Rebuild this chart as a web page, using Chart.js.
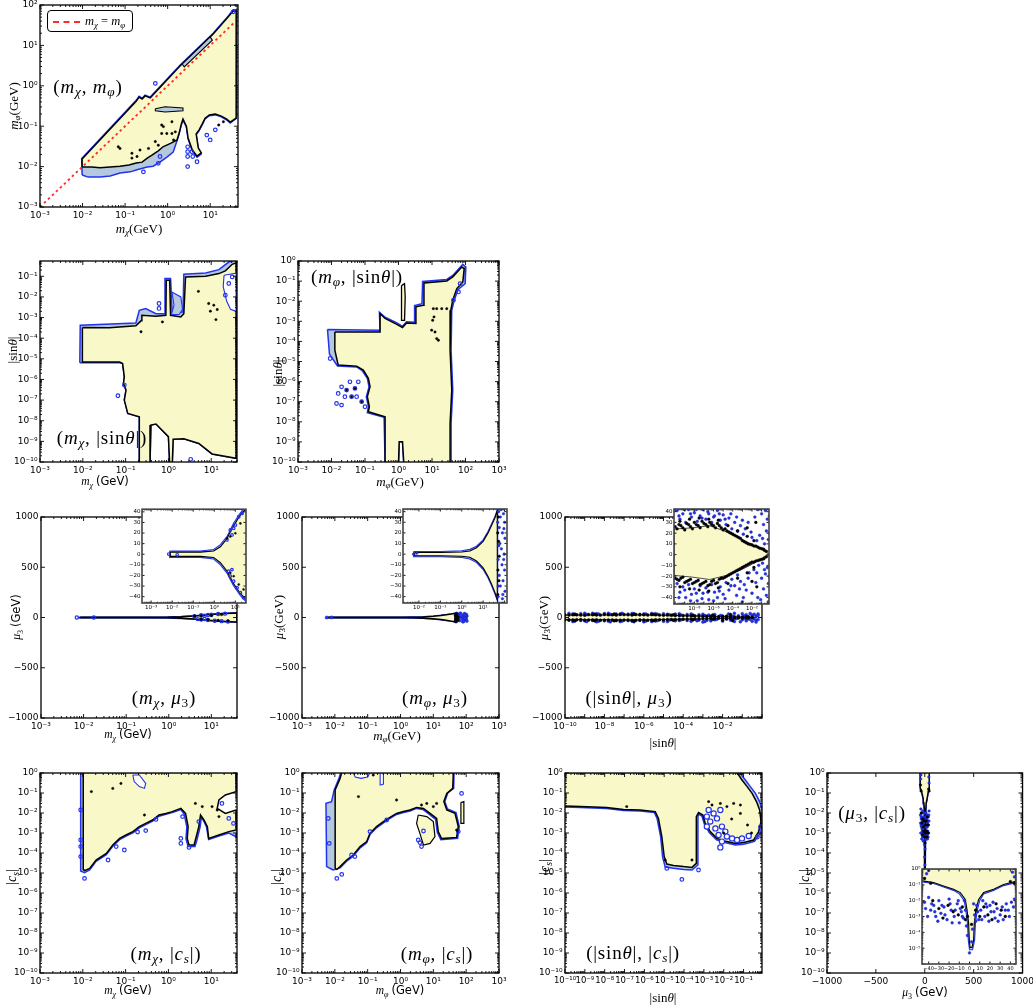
<!DOCTYPE html>
<html>
<head>
<meta charset="utf-8">
<script src="https://cdn.jsdelivr.net/npm/chart.js@4.4.1/dist/chart.umd.min.js"></script>
<style>
  html, body { margin: 0; padding: 0; background: #fff; }
  #fig { position: relative; width: 1033px; height: 1008px; overflow: hidden; }
  .t { position: absolute; white-space: nowrap; color: #000; line-height: 1;
       font-family: 'Liberation Serif', 'DejaVu Serif', serif; }
  .t sub { font-size: 70%; vertical-align: -0.3em; line-height: 0; }
  .t.big { letter-spacing: 0.8px; }
  .sans { font-family: 'DejaVu Sans', sans-serif; font-style: normal; letter-spacing: 0; }
  #legend { position: absolute; left: 47px; top: 10px; width: 86px; height: 22px; box-sizing: border-box;
            border: 1px solid #000; border-radius: 4px; background: #fff; }
  #legend .dash { position: absolute; left: 5px; top: 10px; width: 27px; border-top: 2px dashed #ff2a2a; }
</style>
</head>
<body>
<div id="fig"></div>
<script>
// ---------- data ----------
// coordinates of log axes are given as log10 of the value

// tick labels
const ticksChi = [1e-3, 1e-2, 1e-1, 1, 10];
const ticksPhi = [1e-3, 1e-2, 1e-1, 1, 10, 100, 1000];
const ticksPhiY = [1e-3, 1e-2, 1e-1, 1, 10, 100];
const ticksSinB = [1e-10, 1e-9, 1e-8, 1e-7, 1e-6, 1e-5, 1e-4, 1e-3, 1e-2, 1e-1];
const ticksSinC = [1e-10, 1e-9, 1e-8, 1e-7, 1e-6, 1e-5, 1e-4, 1e-3, 1e-2, 1e-1, 1];
const ticksCs = [1e-10, 1e-9, 1e-8, 1e-7, 1e-6, 1e-5, 1e-4, 1e-3, 1e-2, 1e-1, 1];
const ticksMu = [-1000, -500, 0, 500, 1000];
const ticksSinF = [1e-10, 1e-8, 1e-6, 1e-4, 1e-2];
const ticksSinI = [1e-10, 1e-9, 1e-8, 1e-7, 1e-6, 1e-5, 1e-4, 1e-3, 1e-2, 1e-1];
const ticksMuInset = [-40, -30, -20, -10, 0, 10, 20, 30, 40];
const ticksChiInset = [1e-3, 1e-2, 1e-1, 1, 10];
const ticksPhiInset = [1e-2, 1e-1, 1, 10];
const ticksSinInset = [1e-8, 1e-6, 1e-4, 1e-2];
const ticksCsInset = [1e-5, 1e-4, 1e-3, 1e-2, 1e-1, 1];

// (m_chi, m_phi)  [log mchi, log mphi]
const chiPhiOuter = [[-2.01,-2.21],[-2.02,-1.80],[-0.74,-0.36],[-0.67,-0.26],[-0.60,-0.31],[-0.53,-0.23],[-0.41,-0.28],[0.29,0.51],[1.07,1.30],[1.42,1.72],[1.54,1.88],[1.62,1.88],[1.62,-0.80],[1.47,-0.92],[1.38,-0.84],[1.26,-0.77],[1.12,-0.72],[0.98,-0.74],[0.88,-0.82],[0.81,-0.97],[0.74,-1.11],[0.67,-1.21],[0.72,-1.56],[0.79,-1.69],[0.69,-1.77],[0.58,-1.61],[0.48,-1.31],[0.44,-1.02],[0.36,-0.85],[0.32,-0.97],[0.27,-1.19],[0.22,-1.36],[0.13,-1.64],[-0.01,-1.76],[-0.18,-1.89],[-0.34,-1.99],[-0.48,-2.01],[-0.72,-2.08],[-0.88,-2.13],[-1.12,-2.16],[-1.35,-2.23],[-1.59,-2.26],[-1.87,-2.26]];
const chiPhiInner = [[-2.01,-2.01],[-2.01,-1.81],[-0.74,-0.38],[-0.67,-0.28],[-0.60,-0.33],[-0.53,-0.25],[-0.41,-0.30],[0.29,0.49],[1.07,1.28],[1.42,1.70],[1.54,1.85],[1.61,1.85],[1.61,-0.80],[1.47,-0.90],[1.38,-0.82],[1.26,-0.75],[1.12,-0.70],[0.98,-0.72],[0.88,-0.80],[0.81,-0.95],[0.74,-1.09],[0.67,-1.19],[0.72,-1.54],[0.79,-1.66],[0.69,-1.74],[0.58,-1.59],[0.48,-1.29],[0.44,-1.0],[0.36,-0.82],[0.32,-0.95],[0.27,-1.17],[0.22,-1.34],[0.08,-1.42],[-0.11,-1.51],[-0.22,-1.61],[-0.36,-1.71],[-0.48,-1.79],[-0.60,-1.89],[-0.74,-1.91],[-0.91,-1.96],[-1.12,-1.99],[-1.35,-2.01],[-1.59,-2.03],[-1.78,-2.01]];
const chiPhiStrip = [[0.34,0.54],[1.0,1.21],[1.05,1.13],[0.39,0.47]];
const chiPhiHole = [[-0.29,-0.57],[-0.06,-0.52],[0.36,-0.55],[0.36,-0.62],[-0.06,-0.65],[-0.29,-0.62]];
const chiPhiDots = [[-0.14,-0.97],[-0.14,-1.18],[-0.02,-1.18],[0.10,-1.18],[0.18,-1.14],[-0.29,-1.38],[-0.22,-1.47],[-0.45,-1.55],[-0.65,-1.59],[-0.84,-1.79],[-1.12,-1.55],[0.10,-0.89],[-0.72,-1.75],[-0.10,-1.01],[0.14,-1.34],[-1.16,-1.51],[-0.84,-1.67],[1.20,-0.97],[1.31,-0.89]];
const chiPhiRings = [[0.47,-1.51],[0.47,-1.63],[0.57,-1.63],[0.47,-1.75],[0.59,-1.75],[0.47,-2.0],[0.69,-1.88],[1.0,-1.34],[1.12,-1.09],[0.92,-1.22],[-0.22,-1.92],[-0.29,0.06],[1.54,1.83],[-0.18,-1.75],[-0.57,-2.13]];
const chiPhiDiag = [[-3,-3],[1.6,1.6]];

// (m_chi, |sin theta|)  [log mchi, log sin]
const chiSinOuter = [[-2.07,-5.19],[-2.06,-3.37],[-0.76,-3.26],[-0.68,-2.65],[-0.53,-2.56],[-0.29,-2.81],[-0.08,-2.81],[-0.08,-1.11],[0.05,-1.11],[0.09,-2.81],[0.34,-2.73],[0.36,-0.90],[0.87,-0.84],[1.18,-0.68],[1.41,-0.31],[1.58,-0.19],[1.58,-9.82],[1.02,-9.61],[0.71,-9.10],[0.36,-8.87],[0.11,-8.90],[0.09,-10.1],[0.03,-10.1],[0.0,-8.77],[-0.29,-8.16],[-0.41,-8.21],[-0.43,-10.1],[-0.68,-10.1],[-0.68,-7.81],[-0.95,-7.65],[-1.03,-7.0],[-0.99,-6.52],[-1.05,-6.19],[-1.03,-5.87],[-1.07,-5.23],[-1.14,-5.19]];
const chiSinInner = [[-2.01,-3.48],[-1.38,-3.50],[-0.76,-3.40],[-0.64,-3.16],[-0.62,-2.89],[-0.29,-2.94],[-0.06,-2.89],[-0.05,-1.19],[0.03,-1.19],[0.05,-2.89],[0.29,-2.97],[0.36,-2.81],[0.40,-1.03],[0.87,-1.0],[1.18,-0.87],[1.33,-0.74],[1.49,-0.42],[1.58,-0.35],[1.58,-9.82],[1.02,-9.61],[0.71,-9.10],[0.36,-8.87],[0.11,-8.90],[0.09,-10.1],[0.03,-10.1],[0.0,-8.77],[-0.29,-8.16],[-0.41,-8.21],[-0.43,-10.1],[-0.68,-10.1],[-0.68,-7.81],[-0.95,-7.65],[-1.03,-7.0],[-0.99,-6.52],[-1.05,-6.19],[-1.03,-5.87],[-1.07,-5.23],[-1.14,-5.15],[-2.01,-5.15]];
const chiSinIsland = [[0.08,-1.76],[0.29,-2.0],[0.33,-2.6],[0.25,-2.85],[0.07,-2.85],[0.13,-2.4]];
const chiSinHole = [[1.30,-0.95],[1.58,-0.85],[1.58,-2.7],[1.45,-2.6],[1.36,-2.2],[1.28,-1.5]];
const chiSinRings = [[-0.22,-2.32],[-0.22,-2.56],[0.52,-9.87],[-1.18,-6.79],[-1.03,-6.27],[1.33,-1.92],[1.41,-1.35],[1.49,-1.03]];
const chiSinDots = [[0.70,-1.73],[0.94,-2.32],[1.06,-2.4],[0.98,-2.69],[1.14,-2.61],[1.11,-3.1],[-0.14,-3.21],[-0.64,-3.69]];

// (m_phi, |sin theta|)  [log mphi, log sin]
const phiSinOuter = [[-2.12,-3.41],[-0.55,-3.45],[-0.57,-2.55],[-0.40,-2.80],[-0.05,-3.08],[0.12,-3.25],[0.24,-3.02],[0.48,-3.05],[0.48,-2.22],[0.70,-2.12],[0.72,-1.02],[1.44,-0.92],[1.62,-0.72],[1.92,-0.17],[2.01,-0.30],[1.99,-1.13],[1.78,-1.42],[1.66,-1.97],[1.59,-2.45],[1.57,-4.44],[1.62,-6.42],[1.57,-8.08],[1.57,-10.1],[0.16,-10.1],[0.12,-8.99],[0.02,-8.99],[0.0,-10.1],[-0.40,-10.1],[-0.43,-7.78],[-0.93,-7.55],[-0.90,-7.25],[-0.96,-6.75],[-0.88,-6.26],[-0.93,-5.84],[-1.08,-5.46],[-1.25,-5.27],[-1.82,-5.22],[-2.06,-4.64]];
const phiSinInner = [[-1.90,-3.53],[-0.55,-3.53],[-0.55,-2.62],[-0.40,-2.86],[-0.05,-3.15],[0.12,-3.31],[0.24,-3.08],[0.52,-3.11],[0.52,-2.28],[0.74,-2.20],[0.76,-1.09],[1.44,-0.99],[1.62,-0.79],[1.89,-0.30],[1.96,-0.38],[1.92,-1.04],[1.74,-1.37],[1.62,-1.95],[1.56,-2.45],[1.54,-4.44],[1.59,-6.42],[1.54,-8.08],[1.54,-10.1],[0.16,-10.1],[0.12,-8.99],[0.02,-8.99],[0.0,-10.1],[-0.40,-10.1],[-0.40,-7.75],[-0.90,-7.5],[-0.87,-7.25],[-0.93,-6.75],[-0.85,-6.26],[-0.90,-5.84],[-1.05,-5.43],[-1.25,-5.23],[-1.80,-5.18],[-1.90,-4.44]];
const phiSinSpike = [[0.10,-1.21],[0.18,-1.13],[0.20,-1.79],[0.18,-2.95],[0.10,-2.95],[0.08,-1.95]];
const phiSinDots = [[1.04,-2.37],[1.06,-2.78],[1.02,-2.95],[0.99,-3.44],[1.09,-3.53],[1.14,-3.86],[1.19,-3.94],[1.14,-2.37],[1.29,-2.37],[1.44,-2.37],[-1.55,-6.42],[-1.30,-6.34],[-1.40,-6.75],[-1.10,-7.0]];
const phiSinRings = [[-1.85,-7.09],[-1.70,-7.17],[-1.60,-6.75],[-1.40,-6.75],[-1.30,-6.34],[-1.20,-6.01],[-1.45,-6.01],[-1.10,-7.0],[-1.0,-7.25],[-1.55,-6.42],[-1.80,-6.59],[-2.04,-4.85],[-1.25,-6.75],[-1.70,-6.26],[1.79,-1.54],[1.64,-1.95],[1.84,-1.13]];

// (m_chi, mu3)  [log mchi, mu3 GeV]
const chiMuOuter = [[-2.12,3],[-1.5,3],[-0.66,3],[-0.03,4.5],[0.29,9],[0.61,17],[0.76,23],[0.92,29.5],[1.24,39],[1.47,44],[1.6,46],[1.6,-46],[1.47,-44],[1.24,-39],[0.92,-30],[0.76,-24],[0.61,-18],[0.29,-10],[-0.03,-4.5],[-0.66,-3],[-1.5,-3],[-2.12,-3]];
const chiMuInner = [[-2.08,2],[-1.5,2],[-0.66,2],[-0.03,3],[0.29,7],[0.61,15],[0.76,21],[0.92,27],[1.24,37],[1.47,42],[1.6,44],[1.6,-44],[1.47,-42],[1.24,-37],[0.92,-28],[0.76,-22],[0.61,-16],[0.29,-8],[-0.03,-3],[-0.66,-2],[-1.5,-2],[-2.08,-2]];
const chiMuRings = [[0.76,22.9],[0.84,18.2],[0.92,24.5],[1.0,27.6],[1.16,35.4],[1.32,38.5],[0.76,-20.7],[0.92,-25.4],[1.08,-31.6],[1.24,-36.3],[1.39,-41.0],[0.84,-14.5],[-2.16,0.2],[-1.76,-0.5],[0.6,13.5],[0.68,-16]];
const chiMuDots = [[0.61,15.1],[1.0,19.8],[1.24,29.1],[0.92,-20.7],[1.16,-28.5],[1.39,-33.2],[0.76,16.7],[0.76,-17.6]];

// (m_phi, mu3)  [log mphi, mu3 GeV]
const phiMuOuter = [[-2.25,2.5],[-1,2.5],[0,3.2],[0.38,4.5],[0.69,7.5],[1.0,13.5],[1.23,21.5],[1.39,28.5],[1.55,35.5],[1.68,42.5],[1.68,-44.5],[1.55,-37.5],[1.39,-29.5],[1.23,-22.5],[1.0,-14.5],[0.69,-8],[0.38,-4.5],[0,-3.2],[-1,-2.5],[-2.25,-2.5]];
const phiMuInner = [[-2.2,1.5],[-1,1.5],[0,2],[0.38,3],[0.69,6],[1.0,12],[1.23,20],[1.39,27],[1.55,34],[1.66,41],[1.66,-43],[1.55,-36],[1.39,-28],[1.23,-21],[1.0,-13],[0.69,-6.5],[0.38,-3],[0,-2],[-1,-1.5],[-2.2,-1.5]];
const phiMuBlue = [[1.72,40],[1.80,35],[1.95,38],[2.0,30],[1.75,25],[1.90,20],[2.02,15],[1.78,10],[1.85,5],[1.98,0],[1.70,-5],[1.88,-10],[2.0,-15],[1.75,-20],[1.93,-25],[1.80,-30],[2.02,-35],[1.70,-40],[1.90,-42],[1.83,42],[1.96,-5],[1.73,8],[-2.25,0],[-2.1,1],[1.68,30],[1.7,-30],[1.92,-38],[1.97,24]];
const phiMuBlack = [[1.68,20],[1.69,-15],[1.70,35],[1.68,-38],[1.75,-2],[1.72,12],[1.74,-25]];

// (|sin theta|, mu3)  [log sin, mu3 GeV]
const sinMuLens = [[-10.1,23.8],[-8.17,25],[-6.42,27],[-4.66,21.3],[-3.61,16.6],[-2.56,11.9],[-1.5,7.2],[-0.8,4.1],[-0.27,0.6],[-0.27,-0.6],[-1.15,-4.4],[-2.2,-10],[-3.26,-14.7],[-4.66,-19.4],[-6.42,-23.2],[-8.17,-21],[-10.1,-19.4]];
const sinMuBlue = [[-9.8,41],[-9.5,33],[-9.2,38],[-8.9,30],[-8.6,42],[-8.3,35],[-8.0,39],[-7.7,31],[-7.4,36],[-7.1,42],[-6.8,33],[-6.5,38],[-6.2,30],[-5.9,36],[-5.6,41],[-5.3,32],[-5.0,37],[-4.7,28],[-4.4,34],[-4.1,24],[-3.8,30],[-3.5,22],[-3.2,27],[-2.9,19],
  [-1.0,38],[-0.6,41],[-0.4,33],[-0.8,28],[-0.5,22],[-1.2,18],[-0.3,14],[-0.7,10],[-1.5,13],[-2.0,16],[-0.9,-8],[-0.4,-12],[-1.3,-10],[-0.6,-18],[-1.0,-22],[-0.3,-27],[-0.8,-32],[-0.5,-38],[-1.1,-42],[-0.3,-44],[-1.8,-14],[-2.3,-17],
  [-9.8,-27],[-9.5,-35],[-9.2,-30],[-8.9,-40],[-8.6,-28],[-8.3,-37],[-8.0,-32],[-7.7,-43],[-7.4,-29],[-7.1,-36],[-6.8,-31],[-6.5,-42],[-6.2,-28],[-5.9,-35],[-5.6,-40],[-5.3,-30],[-5.0,-37],[-4.7,-26],[-4.4,-33],[-4.1,-23],[-3.8,-29],[-3.5,-19],[-3.2,-25],[-2.9,-40],[-2.6,-33],[-3.0,-44],
  [-9.6,36],[-9.0,42],[-8.4,38],[-7.8,42],[-7.2,34],[-6.6,40],[-6.0,35],[-5.4,38],[-4.8,33],[-4.2,38],[-3.6,35],[-3.0,32],[-2.7,24],[-2.4,30],[-2.1,21],[-1.7,35],[-1.4,42],[-0.2,36],[-0.2,20],[-0.9,15],
  [-9.6,-40],[-9.0,-33],[-8.4,-43],[-7.8,-36],[-7.2,-41],[-6.6,-35],[-6.0,-43],[-5.4,-34],[-4.8,-41],[-4.2,-29],[-3.6,-38],[-3.3,-32],[-2.8,-28],[-2.4,-22],[-2.0,-36],[-1.6,-26],[-1.4,-40],[-0.2,-20],[-0.7,-14],[-1.5,-17]];
const sinMuBlack = [[-10,26],[-9.6,28],[-9.2,25],[-8.8,29],[-8.4,26],[-8.0,30],[-7.6,27],[-7.2,31],[-6.8,28],[-6.4,30],[-6.0,27],[-5.6,29],[-5.2,25],[-4.8,24],[-4.4,21],[-4.0,19],[-3.6,17],[-3.2,15],[-2.8,12],[-2.4,10],[-2.0,9],[-1.6,8],[-1.2,6],[-0.8,5],[-0.5,3],
  [-10,-22],[-9.6,-24],[-9.2,-21],[-8.8,-25],[-8.4,-23],[-8.0,-26],[-7.6,-24],[-7.2,-27],[-6.8,-25],[-6.4,-28],[-6.0,-24],[-5.6,-26],[-5.2,-22],[-4.8,-21],[-4.4,-19],[-4.0,-17],[-3.6,-15],[-3.2,-13],[-2.8,-11],[-2.4,-9],[-2.0,-7],[-1.6,-6],[-1.2,-5],[-0.8,-4],[-0.5,-2],
  [-2.5,25],[-2.0,-25],[-1.6,30],[-1.5,-30],
  [-9.8,24],[-9.4,27],[-9.0,23],[-8.6,28],[-8.2,24],[-7.8,28],[-7.4,25],[-7.0,29],[-6.6,26],[-6.2,28],[-5.8,25],[-5.4,27],[-5.0,23],[-4.6,22],[-4.2,20],[-3.8,18],[-3.4,16],[-3.0,13],[-2.6,11],[-2.2,9.5],[-1.8,8],[-1.4,7],[-1.0,5.5],[-0.7,4],
  [-9.5,31],[-8.5,33],[-7.5,34],[-6.5,33],[-5.5,32],[-4.5,27],[-3.5,22],[-2.5,17],[-1.8,13],
  [-9.8,-23],[-9.4,-22],[-9.0,-26],[-8.6,-24],[-8.2,-27],[-7.8,-25],[-7.4,-28],[-7.0,-26],[-6.6,-29],[-6.2,-25],[-5.8,-27],[-5.4,-23],[-5.0,-22],[-4.6,-20],[-4.2,-18],[-3.8,-16],[-3.4,-14],[-3.0,-12],[-2.6,-10],[-2.2,-8],[-1.8,-7],[-1.4,-5.5],[-1.0,-4.5],[-0.7,-3],
  [-9.5,-30],[-8.5,-32],[-7.5,-33],[-6.5,-34],[-5.5,-31],[-4.5,-27],[-3.5,-22],[-2.5,-17],[-1.8,-12]];

// (m_chi, |c_s|)  [log mchi, log cs]
const chiCsOuter = [[-2.05,0.02],[1.6,0.02],[1.6,-0.9],[1.33,-1.05],[1.16,-1.3],[1.11,-1.8],[1.33,-2.07],[1.6,-1.9],[1.6,-3.2],[1.41,-3.0],[1.18,-3.15],[0.94,-3.33],[0.89,-2.7],[0.83,-2.42],[0.77,-2.2],[0.74,-2.7],[0.66,-3.4],[0.62,-3.67],[0.46,-3.67],[0.41,-3.3],[0.43,-2.7],[0.37,-2.07],[0.29,-1.83],[0.09,-1.98],[-0.06,-2.07],[-0.22,-2.16],[-0.37,-2.41],[-0.53,-2.58],[-0.68,-2.74],[-0.83,-2.99],[-0.99,-3.16],[-1.14,-3.33],[-1.30,-3.66],[-1.45,-4.08],[-1.69,-4.42],[-1.84,-4.85],[-1.96,-4.98],[-2.05,-4.9]];
const chiCsInner = [[-1.99,0.02],[1.58,0.02],[1.58,-0.93],[1.33,-1.1],[1.18,-1.35],[1.14,-1.77],[1.33,-2.02],[1.58,-1.85],[1.58,-2.85],[1.41,-2.93],[1.18,-3.1],[0.94,-3.27],[0.91,-2.68],[0.83,-2.35],[0.75,-2.1],[0.71,-2.68],[0.63,-3.35],[0.60,-3.6],[0.48,-3.6],[0.44,-3.27],[0.46,-2.68],[0.40,-2.02],[0.29,-1.77],[0.09,-1.93],[-0.06,-2.02],[-0.22,-2.1],[-0.37,-2.35],[-0.53,-2.52],[-0.68,-2.68],[-0.83,-2.93],[-0.99,-3.1],[-1.14,-3.27],[-1.30,-3.6],[-1.45,-4.02],[-1.69,-4.35],[-1.84,-4.77],[-1.96,-4.88],[-1.99,-4.82]];
const chiCsHole = [[-0.83,-0.1],[-0.68,-0.1],[-0.53,-0.52],[-0.56,-0.77],[-0.68,-0.68],[-0.8,-0.43]];
const chiCsRings = [[-2.05,-1.85],[-2.05,-3.35],[-2.05,-3.68],[-2.05,-4.18],[-1.96,-5.27],[-1.41,-4.35],[-1.22,-3.68],[-1.03,-3.85],[-0.53,-2.88],[-0.72,-2.95],[-0.29,-2.32],[0.33,-2.18],[0.29,-3.27],[0.29,-3.52],[0.48,-3.72],[0.71,-2.43],[1.41,-2.27],[1.52,-2.52],[1.25,-1.52]];
const chiCsDots = [[-1.80,-0.93],[-1.30,-0.77],[-1.11,-0.52],[-0.56,-2.1],[0.63,-1.52],[0.79,-1.68],[1.02,-1.68],[1.14,-1.85],[1.18,-2.18]];

// (m_phi, |c_s|)  [log mphi, log cs]
const phiCsOuter = [[-2.05,-4.85],[-2.25,-4.68],[-2.27,-1.52],[-2.10,-1.43],[-2.02,-0.85],[-1.87,-0.25],[-1.82,0.02],[1.63,0.02],[1.62,-0.77],[1.44,-1.0],[1.35,-1.43],[1.43,-1.8],[1.69,-1.98],[1.79,-2.68],[1.74,-3.27],[1.23,-3.33],[1.12,-2.96],[1.07,-2.32],[0.88,-2.07],[0.68,-1.82],[0.49,-1.77],[0.29,-1.9],[0.09,-1.98],[-0.12,-2.07],[-0.37,-2.32],[-0.52,-2.49],[-0.73,-2.74],[-0.93,-3.08],[-1.03,-3.49],[-1.23,-3.74],[-1.44,-4.16],[-1.64,-4.41],[-1.84,-4.74]];
const phiCsInner = [[-1.99,-4.77],[-1.99,-0.85],[-1.84,-0.27],[-1.79,0.02],[1.61,0.02],[1.59,-0.77],[1.41,-1.02],[1.32,-1.43],[1.41,-1.85],[1.66,-2.02],[1.76,-2.68],[1.71,-3.22],[1.25,-3.28],[1.15,-2.93],[1.10,-2.27],[0.90,-2.02],[0.70,-1.77],[0.49,-1.72],[0.29,-1.85],[0.09,-1.93],[-0.12,-2.02],[-0.37,-2.27],[-0.52,-2.43],[-0.73,-2.68],[-0.93,-3.02],[-1.03,-3.43],[-1.23,-3.68],[-1.44,-4.1],[-1.64,-4.35],[-1.84,-4.68],[-1.94,-4.82]];
const phiCsPill = [[1.84,-1.48],[1.93,-1.43],[1.93,-2.52],[1.84,-2.52]];
const phiCsBlock = [[0.54,-2.1],[0.80,-2.18],[1.0,-2.43],[1.05,-3.18],[0.90,-3.52],[0.70,-3.6],[0.59,-3.02],[0.49,-2.52]];
const phiCsHoleA = [[-1.44,0.02],[-0.93,0.02],[-1.0,-0.2],[-1.2,-0.27],[-1.38,-0.2]];
const phiCsHoleB = [[-0.62,0.02],[-0.52,0.02],[-0.52,-0.55],[-0.6,-0.6]];
const phiCsRings = [[0.54,-3.35],[0.59,-3.48],[0.64,-3.68],[0.70,-2.9],[1.86,-1.02],[-1.49,-4.1],[-1.94,-5.27],[-1.79,-5.07],[-1.39,-4.18],[-0.93,-2.93],[-0.42,-2.35],[-2.2,-2.27],[-2.17,-3.52],[1.76,-2.93]];
const phiCsDots = [[-1.28,-1.18],[-0.83,-0.1],[0.64,-1.6],[0.80,-1.52],[1.0,-1.68],[1.10,-1.52],[1.71,-2.85],[-0.12,-1.35]];

// (|sin theta|, |c_s|)  [log sin, log cs]
const sinCsOuter = [[-10.1,0.02],[-1.20,0.02],[-0.91,-0.35],[-0.66,-0.68],[-0.40,-1.02],[-0.19,-1.43],[-0.05,-1.85],[-0.02,-2.43],[-0.14,-2.98],[-0.45,-3.42],[-0.99,-3.56],[-1.41,-3.6],[-1.84,-3.5],[-2.36,-3.34],[-2.73,-2.98],[-2.98,-2.55],[-3.1,-2.15],[-3.27,-2.05],[-3.30,-2.2],[-3.30,-4.6],[-3.60,-4.85],[-4.02,-4.82],[-4.53,-4.76],[-4.95,-4.7],[-5.08,-4.2],[-5.18,-3.18],[-5.36,-2.27],[-5.5,-1.97],[-6.21,-1.9],[-7.05,-1.87],[-7.90,-1.77],[-9.24,-1.73],[-10.1,-1.7]];
const sinCsInner = [[-10.1,0.02],[-1.33,0.02],[-1.08,-0.35],[-0.82,-0.68],[-0.57,-1.02],[-0.35,-1.43],[-0.19,-1.85],[-0.12,-2.43],[-0.24,-2.93],[-0.49,-3.35],[-0.99,-3.48],[-1.41,-3.52],[-1.84,-3.43],[-2.34,-3.27],[-2.68,-2.93],[-2.93,-2.52],[-3.05,-2.1],[-3.27,-1.98],[-3.38,-2.18],[-3.38,-4.52],[-3.60,-4.72],[-4.02,-4.68],[-4.53,-4.62],[-4.87,-4.55],[-5.0,-4.18],[-5.12,-3.18],[-5.29,-2.27],[-5.45,-1.93],[-6.21,-1.85],[-7.05,-1.82],[-7.90,-1.72],[-9.24,-1.68],[-10.1,-1.65]];
const sinCsHoles = [[-2.85,-2.18],[-2.68,-2.43],[-2.51,-2.02],[-2.34,-2.27],[-2.17,-1.85],[-2.09,-2.68],[-2.42,-2.77],[-2.26,-3.1],[-1.92,-2.93],[-1.84,-3.18],[-1.58,-3.27],[-1.33,-3.35],[-2.76,-1.85],[-2.85,-2.68],[-2.09,-3.43],[-1.08,-3.27],[-0.74,-3.15],[-2.17,-3.72]];
const sinCsDots = [[-2.76,-1.43],[-2.59,-1.6],[-2.17,-1.52],[-1.84,-1.68],[-1.5,-1.52],[-1.16,-1.6],[-1.16,-2.02],[-3.6,-4.35],[-6.89,-1.68],[-4.95,-4.35],[-1.6,-2.3],[-0.8,-2.6],[-0.6,-3.0],[-2.0,-3.0]];
const sinCsRings = [[-4.87,-4.77],[-4.11,-5.32],[-3.27,-4.85],[-0.3,-3.2],[-0.15,-2.7]];

// (mu3, |c_s|)  [mu3 GeV, log cs]
const muCsOuter = [[-47,0.02],[46,0.02],[46,-0.85],[33.4,-1.05],[23.6,-1.35],[13.8,-1.57],[10,-2.0],[7.6,-2.6],[5.8,-3.45],[5.0,-4.5],[3,-5.1],[0,-5.1],[-1.2,-4.5],[-2,-3.45],[-3.6,-2.6],[-5.2,-2.0],[-10,-1.57],[-15.6,-1.35],[-25.4,-1.14],[-35.2,-0.92],[-47,-0.82]];
const muCsInner = [[-46.5,0.02],[45.5,0.02],[45.5,-0.77],[33.4,-0.98],[23.6,-1.28],[13.8,-1.49],[8.9,-1.92],[6.4,-2.55],[4.7,-3.4],[4.0,-4.47],[2.5,-4.95],[0.5,-4.95],[-0.2,-4.47],[-0.9,-3.4],[-2.5,-2.55],[-4.1,-1.92],[-9.0,-1.49],[-15.6,-1.28],[-25.4,-1.07],[-35.2,-0.85],[-46.5,-0.75]];
const muCsBlue = [[-44,-2.1],[-40,-1.8],[-38,-2.6],[-35,-2.3],[-33,-3.0],[-30,-2.0],[-28,-2.8],[-25,-2.4],[-22,-3.2],[-20,-1.9],[-18,-2.6],[-15,-3.0],[-12,-2.2],[-10,-3.4],[-8,-2.7],[-6,-3.1],[-5,-2.0],[-3,-3.6],[-2,-4.2],[0,-5.3],[2,-4.6],[3,-3.8],[5,-2.9],[7,-2.3],[9,-3.2],[11,-2.6],[13,-2.0],[15,-3.0],[17,-2.4],[19,-3.3],[21,-2.7],[23,-2.1],[25,-3.1],[27,-2.5],[30,-2.9],[33,-3.2],[36,-2.2],[38,-2.6],[41,-2.1],[44,-1.9],[-42,-0.3],[-40,-0.1],[42,-0.2],[44,-0.5],
  [-43,-2.5],[-41,-3.0],[-37,-2.2],[-34,-2.7],[-31,-3.3],[-27,-2.3],[-24,-2.9],[-19,-2.2],[-17,-3.4],[-14,-2.6],[-11,-2.0],[-9,-2.5],[-7,-3.0],[-4,-2.6],[4,-2.2],[6,-3.3],[8,-2.7],[12,-3.2],[16,-2.2],[20,-2.3],[24,-2.7],[28,-3.3],[32,-2.4],[35,-2.6],[39,-3.0],[43,-2.4]];
const muCsBlack = [[-36,-2.0],[-30,-2.5],[-26,-3.1],[-21,-2.3],[-16,-2.7],[-11,-2.9],[-7,-2.4],[-4,-3.2],[6,-2.6],[10,-3.0],[14,-2.4],[18,-2.9],[22,-3.2],[26,-2.2],[31,-2.6],[35,-3.0],[-44,-0.6],[-38,-0.9],[40,-0.8],[44,-0.9],[-2,-3.0],[2,-3.5]];

// ---------- styling ----------
const YELLOW = '#f9f8c8';
const LBLUE = '#b4c8de';
const BLUE = '#2233ee';
const fig = document.getElementById('fig');

const SUP = {'-': '\u207b', '0': '\u2070', '1': '\u00b9', '2': '\u00b2', '3': '\u00b3', '4': '\u2074',
             '5': '\u2075', '6': '\u2076', '7': '\u2077', '8': '\u2078', '9': '\u2079'};
const pow10 = v => '10' + String(Math.round(Math.log10(v))).split('').map(c => SUP[c]).join('');
const plain = v => (v < 0 ? '\u2212' + (-v) : String(v));

// log-exponent pairs -> chart points
const pts = (arr, lx, ly) => arr.map(([a, b]) => ({x: lx ? Math.pow(10, a) : a, y: ly ? Math.pow(10, b) : b}));

const STYLES = {
  outer: [LBLUE, BLUE], inner: [YELLOW, '#000'], strip: [LBLUE, '#000'],
  isle: [LBLUE, BLUE], hole: ['#fff', BLUE], yisle: [YELLOW, '#000']
};
function area(arr, kind, lx, ly, order, lw) {
  const p = pts(arr, lx, ly);
  p.push(p[0]);
  return {type: 'line', data: p, backgroundColor: STYLES[kind][0], borderColor: STYLES[kind][1],
          borderWidth: lw, fill: 'shape', pointRadius: 0, pointHitRadius: 0, tension: 0, order};
}
function dots(arr, lx, ly, r, color) {
  return {type: 'scatter', data: pts(arr, lx, ly), pointRadius: r, pointBackgroundColor: color || '#000',
          pointBorderColor: color === BLUE ? '#1522aa' : '#000', pointBorderWidth: 0.4, order: color === BLUE ? 2 : 1};
}
function rings(arr, lx, ly, r, fillc) {
  return {type: 'scatter', data: pts(arr, lx, ly), pointRadius: r, pointBackgroundColor: fillc || 'rgba(255,255,255,0)',
          pointBorderColor: BLUE, pointBorderWidth: 1.2, order: 2};
}

// inward ticks on all four sides + frame
function tickMarks(s) {
  const out = [];
  if (s.type === 'logarithmic') {
    for (let d = Math.floor(Math.log10(s.min)); d <= Math.ceil(Math.log10(s.max)); d++) {
      for (let m = 1; m < 10; m++) {
        const v = m * Math.pow(10, d);
        if (v >= s.min * 0.999 && v <= s.max * 1.001) out.push([v, m === 1]);
      }
    }
  } else {
    s.ticks.forEach(t => out.push([t.value, true]));
  }
  return out;
}
const framePlugin = {
  id: 'frame',
  beforeDraw(chart, args, o) {
    if (!o.bg) return;
    const a = chart.chartArea, ctx = chart.ctx;
    ctx.save();
    ctx.fillStyle = '#fff';
    ctx.fillRect(a.left, a.top, a.right - a.left, a.bottom - a.top);
    ctx.restore();
  },
  afterDatasetsDraw(chart, args, o) {
    const a = chart.chartArea, ctx = chart.ctx;
    ctx.save();
    ctx.strokeStyle = '#000';
    ctx.lineWidth = 0.9;
    ctx.beginPath();
    tickMarks(chart.scales.x).forEach(([v, major]) => {
      const p = chart.scales.x.getPixelForValue(v), l = major ? o.len : o.len * 0.5;
      ctx.moveTo(p, a.bottom); ctx.lineTo(p, a.bottom - l);
      ctx.moveTo(p, a.top); ctx.lineTo(p, a.top + l);
    });
    tickMarks(chart.scales.y).forEach(([v, major]) => {
      const p = chart.scales.y.getPixelForValue(v), l = major ? o.len : o.len * 0.5;
      ctx.moveTo(a.left, p); ctx.lineTo(a.left + l, p);
      ctx.moveTo(a.right, p); ctx.lineTo(a.right - l, p);
    });
    ctx.stroke();
    ctx.strokeStyle = o.color;
    ctx.lineWidth = o.width;
    ctx.strokeRect(a.left, a.top, a.right - a.left, a.bottom - a.top);
    ctx.restore();
  }
};

// box = [left, top, width, height] of the plot area
function panel(box, xs, ys, datasets, inset) {
  const pad = inset ? {l: 15, t: 5, r: 8, b: 9} : {l: 40, t: 9, r: 14, b: 17};
  const w = box[2] + pad.l + pad.r, h = box[3] + pad.t + pad.b;
  const c = document.createElement('canvas');
  c.width = w; c.height = h;
  c.style.cssText = `position:absolute;left:${box[0] - pad.l}px;top:${box[1] - pad.t}px;width:${w}px;height:${h}px`;
  fig.appendChild(c);
  const axis = (s, isX) => ({
    type: s.log ? 'logarithmic' : 'linear',
    min: s.min, max: s.max,
    grid: {display: false, drawTicks: false, tickLength: 0}, border: {display: false},
    ticks: {font: {family: "'DejaVu Sans', sans-serif", size: s.fs || (inset ? 5.5 : 9)}, color: '#000',
            padding: inset ? 1.5 : (isX ? 3 : 2.5), autoSkip: false, maxRotation: 0, minRotation: 0,
            callback: s.log ? pow10 : plain},
    afterBuildTicks: sc => { sc.ticks = s.ticks.map(v => ({value: v})); },
    afterFit: sc => { if (isX) sc.height = pad.b; else sc.width = pad.l; }
  });
  new Chart(c, {
    type: 'scatter',
    data: {datasets},
    options: {
      responsive: false, animation: false, events: [],
      layout: {padding: {left: 0, top: pad.t, right: pad.r, bottom: 0}},
      plugins: {legend: {display: false}, tooltip: {enabled: false},
                frame: {len: inset ? 2.5 : 4, color: inset ? '#444' : '#000', width: inset ? 1.6 : 1.3, bg: !!inset}},
      scales: {x: axis(xs, true), y: axis(ys, false)}
    },
    plugins: [framePlugin]
  });
}

// ---------- row 1 ----------
panel([40, 5, 198, 202],
  {log: true, min: 1e-3, max: 45, ticks: ticksChi},
  {log: true, min: 1e-3, max: 100, ticks: ticksPhiY},
  [area(chiPhiOuter, 'outer', 1, 1, 6, 1.5), area(chiPhiInner, 'inner', 1, 1, 5, 1.5),
   area(chiPhiStrip, 'strip', 1, 1, 4, 1.1), area(chiPhiHole, 'strip', 1, 1, 4, 1.1),
   {type: 'line', data: pts(chiPhiDiag, 1, 1), borderColor: '#ff2a2a', borderWidth: 1.8, borderDash: [2.5, 3],
    pointRadius: 0, fill: false, order: 3},
   rings(chiPhiRings, 1, 1, 1.8), dots(chiPhiDots, 1, 1, 1.2)]);

// ---------- row 2 ----------
panel([40, 261, 197, 201],
  {log: true, min: 1e-3, max: 40, ticks: ticksChi},
  {log: true, min: 1e-10, max: 0.55, ticks: ticksSinB},
  [area(chiSinOuter, 'outer', 1, 1, 6, 1.5), area(chiSinInner, 'inner', 1, 1, 5, 1.5),
   area(chiSinIsland, 'isle', 1, 1, 4, 1.1), area(chiSinHole, 'hole', 1, 1, 4, 1.1),
   rings(chiSinRings, 1, 1, 1.8), dots(chiSinDots, 1, 1, 1.2)]);

panel([298, 261, 201, 201],
  {log: true, min: 1e-3, max: 1e3, ticks: ticksPhi},
  {log: true, min: 1e-10, max: 1, ticks: ticksSinC},
  [area(phiSinOuter, 'outer', 1, 1, 6, 1.5), area(phiSinInner, 'inner', 1, 1, 5, 1.5),
   area(phiSinSpike, 'yisle', 1, 1, 4, 1.3),
   rings(phiSinRings, 1, 1, 1.8), dots(phiSinDots, 1, 1, 1.2)]);

// ---------- row 3 ----------
const chiMuSets = (lw, r) => [area(chiMuOuter, 'outer', 1, 0, 6, lw), area(chiMuInner, 'inner', 1, 0, 5, lw),
  rings(chiMuRings, 1, 0, r), dots(chiMuDots, 1, 0, r * 0.8)];
panel([41, 517, 196, 201],
  {log: true, min: 1e-3, max: 40, ticks: ticksChi},
  {min: -1000, max: 1000, ticks: ticksMu}, chiMuSets(1.5, 1.6));

const phiMuSets = (lw, r) => [area(phiMuOuter, 'outer', 1, 0, 6, lw), area(phiMuInner, 'inner', 1, 0, 5, lw),
  dots(phiMuBlue, 1, 0, r, BLUE), dots(phiMuBlack, 1, 0, r)];
panel([302, 517, 197, 201],
  {log: true, min: 1e-3, max: 1e3, ticks: ticksPhi},
  {min: -1000, max: 1000, ticks: ticksMu}, phiMuSets(1.5, 1.6));

const sinMuSets = (lw, r) => [area(sinMuLens, 'inner', 1, 0, 5, lw),
  dots(sinMuBlue, 1, 0, r, BLUE), dots(sinMuBlack, 1, 0, r)];
panel([565, 517, 197, 201],
  {log: true, min: 1e-10, max: 1, ticks: ticksSinF},
  {min: -1000, max: 1000, ticks: ticksMu}, sinMuSets(0.8, 1.5));

// ---------- row 4 ----------
panel([40, 773, 197, 200],
  {log: true, min: 1e-3, max: 40, ticks: ticksChi},
  {log: true, min: 1e-10, max: 1, ticks: ticksCs},
  [area(chiCsOuter, 'outer', 1, 1, 6, 1.5), area(chiCsInner, 'inner', 1, 1, 5, 1.5),
   area(chiCsHole, 'hole', 1, 1, 4, 1.1),
   rings(chiCsRings, 1, 1, 1.8), dots(chiCsDots, 1, 1, 1.2)]);

panel([302, 773, 197, 200],
  {log: true, min: 1e-3, max: 1e3, ticks: ticksPhi},
  {log: true, min: 1e-10, max: 1, ticks: ticksCs},
  [area(phiCsOuter, 'outer', 1, 1, 6, 1.5), area(phiCsInner, 'inner', 1, 1, 5, 1.5),
   area(phiCsPill, 'yisle', 1, 1, 4, 1.2), area(phiCsBlock, 'yisle', 1, 1, 4, 1.2),
   area(phiCsHoleA, 'hole', 1, 1, 4, 1.1), area(phiCsHoleB, 'hole', 1, 1, 4, 1.1),
   rings(phiCsRings, 1, 1, 1.8), dots(phiCsDots, 1, 1, 1.2)]);

panel([565, 773, 197, 200],
  {log: true, min: 1e-10, max: 0.85, ticks: ticksSinI, fs: 8.5},
  {log: true, min: 1e-10, max: 1, ticks: ticksCs},
  [area(sinCsOuter, 'outer', 1, 1, 6, 1.5), area(sinCsInner, 'inner', 1, 1, 5, 1.5),
   rings(sinCsHoles, 1, 1, 2.6, '#fff'),
   rings(sinCsRings, 1, 1, 1.8), dots(sinCsDots, 1, 1, 1.2)]);

const muCsSets = (lw, r) => [area(muCsOuter, 'outer', 0, 1, 6, lw), area(muCsInner, 'inner', 0, 1, 5, lw),
  dots(muCsBlue, 0, 1, r, BLUE), dots(muCsBlack, 0, 1, r)];
panel([827, 773, 196, 200],
  {min: -1000, max: 1000, ticks: ticksMu},
  {log: true, min: 1e-10, max: 1, ticks: ticksCs}, muCsSets(1.4, 1.3));

// ---------- insets ----------
panel([142, 509, 104, 94],
  {log: true, min: 3.7e-4, max: 32, ticks: ticksChiInset},
  {min: -46, max: 42.5, ticks: ticksMuInset}, chiMuSets(1.1, 1.3), true);
panel([403, 509, 104, 94],
  {log: true, min: 1.8e-3, max: 130, ticks: ticksPhiInset},
  {min: -46, max: 42.5, ticks: ticksMuInset}, phiMuSets(1.1, 1.3), true);
panel([674, 509, 95, 95],
  {log: true, min: 7.6e-11, max: 0.59, ticks: ticksSinInset},
  {min: -46, max: 42.5, ticks: ticksMuInset}, sinMuSets(0.7, 1.4), true);
panel([922, 869, 94, 95],
  {min: -46.5, max: 45.5, ticks: ticksMuInset, fs: 5},
  {log: true, min: 1e-6, max: 1, ticks: ticksCsInset}, muCsSets(1.1, 1.4), true);

// ---------- text ----------
const mchi = '<i>m</i><sub><i>\u03c7</i></sub>';
const mphi = '<i>m</i><sub><i>\u03c6</i></sub>';
const mu3 = '<i>\u03bc</i><sub>3</sub>';
const sin = '|sin<i>\u03b8</i>|';
const cs = '|<i>c</i><sub><i>s</i></sub>|';
const gevSerif = '(GeV)';
const gevSans = ' <span class="sans">(GeV)</span>';

function text(html, x, y, size, rot, cls) {
  const d = document.createElement('div');
  d.className = 't' + (cls ? ' ' + cls : '');
  d.innerHTML = html;
  d.style.left = x + 'px';
  d.style.top = y + 'px';
  d.style.fontSize = size + 'px';
  d.style.transform = 'translate(-50%,-50%)' + (rot ? ' rotate(-90deg)' : '');
  fig.appendChild(d);
}
// axis titles
text(mphi + gevSerif, 13, 106, 13, true);
text(mchi + gevSerif, 139, 228, 13);
text(sin, 12, 350, 13, true);
text(mchi + gevSans, 105, 482, 11.5);
text(sin, 277, 373, 13, true);
text(mphi + gevSerif, 400, 481, 13);
text(mu3 + gevSans, 17, 617, 11.5, true);
text(mchi + gevSans, 128, 735, 11.5);
text(mu3 + gevSerif, 278, 617, 13, true);
text(mphi + gevSerif, 397, 735, 13);
text(mu3 + gevSerif, 543, 618, 13, true);
text(sin, 663, 742, 13);
text(cs, 12, 877, 14, true);
text(mchi + gevSans, 128, 991, 11.5);
text(cs, 277, 877, 14, true);
text(mphi + gevSans, 400, 991, 11.5);
text(cs, 545, 867, 14, true);
text(sin, 663, 997, 13);
text(cs, 805, 877, 14, true);
text(mu3 + gevSans, 925, 993, 11.5);
// panel labels
text('(' + mchi + ', ' + mphi + ')', 88, 86, 19, false, 'big');
text('(' + mchi + ', ' + sin + ')', 102, 437, 19, false, 'big');
text('(' + mphi + ', ' + sin + ')', 357, 276, 19, false, 'big');
text('(' + mchi + ', ' + mu3 + ')', 164, 697, 19, false, 'big');
text('(' + mphi + ', ' + mu3 + ')', 435, 697, 19, false, 'big');
text('(' + sin + ', ' + mu3 + ')', 629, 697, 19, false, 'big');
text('(' + mchi + ', ' + cs + ')', 166, 953, 19, false, 'big');
text('(' + mphi + ', ' + cs + ')', 437, 953, 19, false, 'big');
text('(' + sin + ', ' + cs + ')', 633, 952, 19, false, 'big');
text('(' + mu3 + ', ' + cs + ')', 872, 812, 19, false, 'big');

// legend of the first panel
const lg = document.createElement('div');
lg.id = 'legend';
lg.innerHTML = '<div class="dash"></div><div class="t" style="left:37px;top:4px;font-size:12.5px">' +
  mchi + ' = ' + mphi + '</div>';
fig.appendChild(lg);
</script>
</body>
</html>
